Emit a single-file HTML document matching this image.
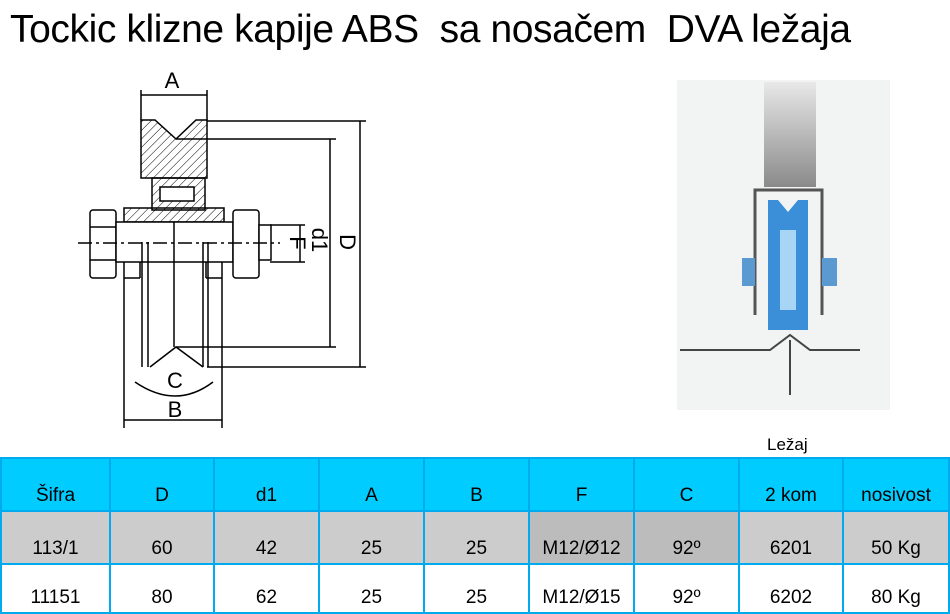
<!DOCTYPE html>
<html><head><meta charset="utf-8"><style>
body{margin:0;width:950px;height:614px;background:#fff;position:relative;overflow:hidden;font-family:"Liberation Sans",sans-serif}
.t{position:absolute;left:10px;top:8px;font-size:39px;white-space:pre;color:#000;letter-spacing:-0.4px}
.lz{position:absolute;left:767px;top:435px;font-size:17px}
table{position:absolute;left:0;top:457px;width:950px;height:157px;border-collapse:collapse;background:#00aaee}
td{padding:0;text-align:center;vertical-align:bottom;font-size:19px;border:2px solid #00aaee;padding-bottom:3px}
tr.h td{background:#00ccff;height:46px}
tr.g td{background:#cccccc;height:45px}
tr.w td{background:#fff;height:42px}
td.d{background:#bcbcbc!important}
</style></head><body>
<div class="t">Tockic klizne kapije ABS  sa nosačem  DVA ležaja</div>
<svg style="position:absolute;left:0;top:0" width="950" height="450" viewBox="0 0 950 450">
<defs><pattern id="h" width="6" height="6" patternUnits="userSpaceOnUse" patternTransform="rotate(45)"><line x1="0" y1="0" x2="0" y2="6" stroke="#000" stroke-width="1"/></pattern>
<linearGradient id="g1" x1="0" y1="0" x2="0" y2="1"><stop offset="0" stop-color="#e8e8e8"/><stop offset="1" stop-color="#8a8a8a"/></linearGradient></defs>
<g stroke="#000" stroke-width="1.5" fill="none">
<line x1="141" y1="90" x2="141" y2="120"/><line x1="207" y1="90" x2="207" y2="120"/>
<line x1="141" y1="95" x2="207" y2="95"/>
<path d="M141 120 L155 120 L176 139 L196 120 L207 120 L207 178 L141 178 Z" fill="url(#h)"/>
<rect x="152" y="178" width="53" height="32" fill="url(#h)"/>
<rect x="160" y="187" width="34" height="14" fill="#fff"/>
<rect x="124" y="208" width="100" height="14" fill="url(#h)"/>
<line x1="207" y1="121" x2="366" y2="121"/><line x1="176" y1="139" x2="336" y2="139"/>
<line x1="360" y1="121" x2="360" y2="367"/><line x1="330" y1="139" x2="330" y2="347"/>
<line x1="207" y1="367" x2="366" y2="367"/><line x1="176" y1="347" x2="336" y2="347"/>
<rect x="90" y="210" width="26" height="68" rx="3" fill="#fff"/>
<line x1="90" y1="227" x2="116" y2="227"/><line x1="90" y1="260" x2="116" y2="260"/>
<rect x="116" y="222" width="117" height="40" fill="#fff"/>
<rect x="233" y="210" width="26" height="68" rx="3" fill="#fff"/>
<rect x="259" y="225" width="12" height="35" fill="#fff"/>
<line x1="124" y1="262" x2="124" y2="428"/><line x1="222" y1="262" x2="222" y2="428"/>
<line x1="124" y1="278" x2="140" y2="278"/><line x1="140" y1="262" x2="140" y2="278"/>
<line x1="206" y1="278" x2="222" y2="278"/><line x1="206" y1="262" x2="206" y2="278"/>
<line x1="142" y1="242" x2="142" y2="367"/><line x1="148" y1="242" x2="148" y2="367"/>
<line x1="203" y1="242" x2="203" y2="367"/><line x1="208" y1="242" x2="208" y2="367"/>
<line x1="174" y1="222" x2="174" y2="347"/>
<path d="M150 367 L176 347 L203 367"/>
<path d="M135 382 Q176 410 213 382"/>
<line x1="124" y1="420" x2="222" y2="420"/>
<line x1="270" y1="225" x2="305" y2="225"/><line x1="270" y1="262" x2="305" y2="262"/>
<line x1="300" y1="225" x2="300" y2="262"/>
<line x1="78" y1="243" x2="280" y2="243" stroke-dasharray="14 4 3 4"/>
</g>
<g font-size="22" font-family="Liberation Sans" text-anchor="middle">
<text x="172" y="88">A</text><text x="175" y="388">C</text><text x="175" y="417">B</text>
<text transform="translate(290,243) rotate(90)">F</text>
<text transform="translate(312,240) rotate(90)">d1</text>
<text transform="translate(340,242) rotate(90)">D</text>
</g>
<rect x="677" y="80" width="213" height="330" fill="#f2f4f4"/>
<rect x="764" y="82" width="52" height="105" fill="url(#g1)"/>
<path d="M755 315 L755 190 L822 190 L822 315" stroke="#555" stroke-width="3" fill="none"/>
<path d="M768 200 L778 200 L788 212 L798 200 L808 200 L808 330 L768 330 Z" fill="#3a8fd8"/>
<rect x="780" y="230" width="16" height="80" fill="#a8d4f5"/>
<rect x="742" y="258" width="13" height="28" fill="#5a9ad0"/><rect x="822" y="258" width="15" height="28" fill="#5a9ad0"/>
<path d="M680 350 L770 350 L790 335 L810 350 L860 350" stroke="#444" stroke-width="2" fill="none"/>
<line x1="790" y1="340" x2="790" y2="395" stroke="#444" stroke-width="2"/>
</svg>
<div class="lz">Ležaj</div>
<table>
<tr class="h"><td style="width:107px">Šifra</td><td style="width:102px">D</td><td style="width:103px">d1</td><td style="width:103px">A</td><td style="width:103px">B</td><td style="width:103px">F</td><td style="width:103px">C</td><td style="width:102px">2 kom</td><td>nosivost</td></tr>
<tr class="g"><td>113/1</td><td>60</td><td>42</td><td>25</td><td>25</td><td class="d">M12/Ø12</td><td class="d">92º</td><td>6201</td><td>50 Kg</td></tr>
<tr class="w"><td>11151</td><td>80</td><td>62</td><td>25</td><td>25</td><td>M12/Ø15</td><td>92º</td><td>6202</td><td>80 Kg</td></tr>
</table>
</body></html>
